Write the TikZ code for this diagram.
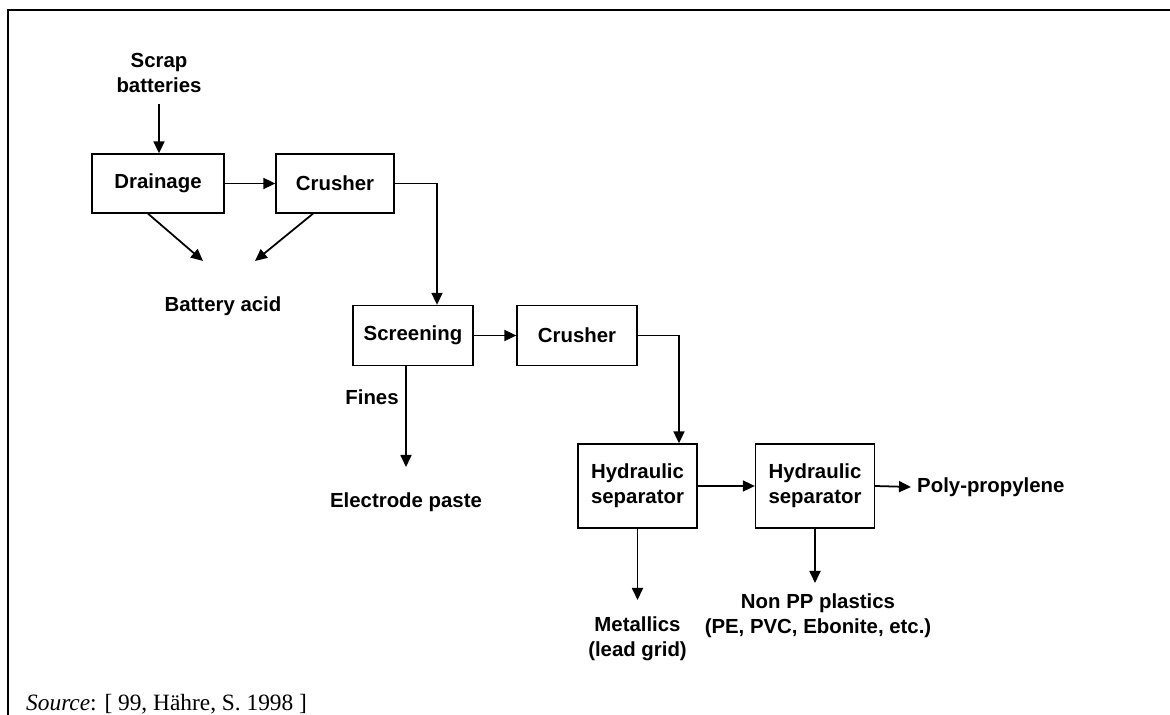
\documentclass[tikz,border=0pt]{standalone}
\usepackage{fontspec}
\setmainfont{Liberation Serif}
\setsansfont{Liberation Sans}
\usetikzlibrary{arrows.meta}

\begin{document}
\begin{tikzpicture}[x=0.02cm, y=-0.02cm,
    every node/.style={font=\sffamily\bfseries\fontsize{11.6}{14.2}\selectfont, align=center},
    unit/.style={draw, line width=0.75pt, inner sep=0pt},
    flow/.style={-{Triangle[length=0.24cm,width=0.22cm]}, line width=1pt}]
  \useasboundingbox (0,0) rectangle (1170,715);

  % frame, cut off at right and bottom
  \draw[line width=1.6pt] (8,715) -- (8,10) -- (1170,10);

  % drainage and first crusher
  \node (scrap) at (159,73) {Scrap\\batteries};
  \node[unit, minimum width=2.64cm, minimum height=1.18cm] (drain) at (158,183.5) {Drainage};
  \node[unit, minimum width=2.36cm, minimum height=1.18cm] (crusha) at (335,183.5) {Crusher};
  \node (acid) at (223,306) {Battery acid};
  \coordinate (acidA) at (203,261);
  \coordinate (acidB) at (255,261);

  \draw[flow, shorten <=0.1cm] (scrap) -- (scrap |- drain.north);
  \draw[flow] (drain) -- (crusha);
  \draw[flow] ([xshift=-0.2cm]drain.south) -- (acidA);
  \draw[flow] ([xshift=-0.44cm]crusha.south) -- (acidB);

  % screening and second crusher
  \node[unit, minimum width=2.4cm, minimum height=1.2cm] (screen) at (413,335.5) {Screening};
  \node[unit, minimum width=2.4cm, minimum height=1.2cm] (crushb) at (577,335.5) {Crusher};
  \node (fines) at (372,397) {Fines};
  \node (paste) at (406,502) {Electrode paste};
  \coordinate (pasteA) at (406,467);

  \draw[flow] (crusha.east) -| ([xshift=0.48cm]screen.north);
  \draw[flow] (screen) -- (crushb);
  \draw[flow] (screen.south -| pasteA) -- (pasteA);

  % hydraulic separators
  \node[unit, minimum width=2.38cm, minimum height=1.68cm] (hsepa) at (637.5,486) {Hydraulic\\separator};
  \node[unit, minimum width=2.38cm, minimum height=1.68cm] (hsepb) at (815,486) {Hydraulic\\separator};
  \node[anchor=west] (poly) at (911,487) {Poly-propylene};
  \node (metal) at (637.5,639) {Metallics\\(lead grid)};
  \node (nonpp) at (818,615.5) {Non PP plastics\\(PE, PVC, Ebonite, etc.)};
  \coordinate (metalA) at (637.5,600);
  \coordinate (nonppA) at (815,583);

  \draw[flow] (crushb.east) -| ([xshift=0.83cm]hsepa.north);
  \draw[flow] (hsepa) -- (hsepb);
  \draw[flow] (hsepb.east) -- (poly.west);
  \draw[flow] (hsepa.south) -- (metalA);
  \draw[flow] (hsepb.south) -- (nonppA);

  % source line
  \node[anchor=base west, font=\rmfamily\fontsize{13.3}{15}\selectfont] (src) at (20,711)
    {\textit{Source}: [ 99, Hähre, S. 1998 ]};
\end{tikzpicture}
\end{document}
